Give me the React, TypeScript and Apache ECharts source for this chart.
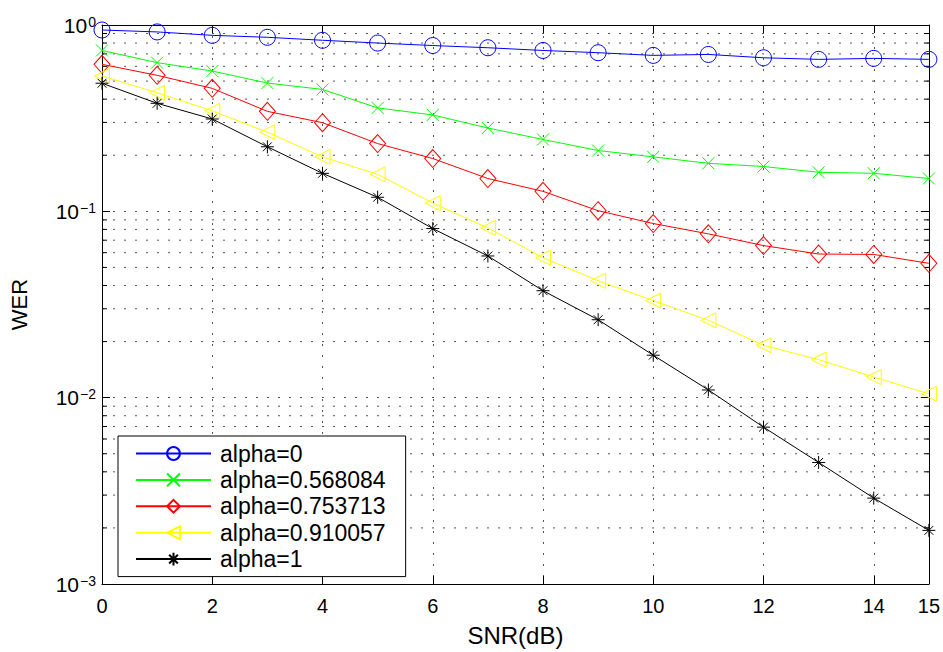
import React, { useEffect, useRef } from "react";
import * as echarts from "echarts";

const snr = [0, 1, 2, 3, 4, 5, 6, 7, 8, 9, 10, 11, 12, 13, 14, 15];
const seriesNames = ["alpha=0", "alpha=0.568084", "alpha=0.753713", "alpha=0.910057", "alpha=1"];
const werAlpha0 = [0.94, 0.918, 0.88, 0.859, 0.828, 0.8, 0.776, 0.755, 0.73, 0.71, 0.687, 0.695, 0.667, 0.654, 0.662, 0.654];
const werAlpha0568 = [0.73, 0.628, 0.566, 0.488, 0.451, 0.359, 0.329, 0.28, 0.243, 0.212, 0.196, 0.181, 0.174, 0.162, 0.16, 0.15];
const werAlpha0753 = [0.615, 0.537, 0.457, 0.344, 0.299, 0.231, 0.192, 0.15, 0.128, 0.1008, 0.086, 0.0757, 0.0655, 0.059, 0.0587, 0.0526];
const werAlpha0910 = [0.533, 0.433, 0.346, 0.266, 0.196, 0.158, 0.1107, 0.0815, 0.0564, 0.0424, 0.0332, 0.026, 0.0191, 0.016, 0.0129, 0.0105];
const werAlpha1 = [0.487, 0.38, 0.313, 0.222, 0.16, 0.119, 0.0808, 0.0576, 0.0375, 0.0262, 0.0169, 0.011, 0.00695, 0.00449, 0.00289, 0.00194];

const colors = ["#0000ff", "#00ff00", "#ff0000", "#ffff00", "#000000"];
const symbols = [
  "circle",
  "path://M0,0L10,10M10,0L0,10",
  "diamond",
  "path://M0,5L10,0L10,10Z",
  "path://M5,0L5,10M0,5L10,5M1.6,1.6L8.4,8.4M8.4,1.6L1.6,8.4",
];
const symbolSizes: any[] = [16, 12, [16, 18], 15, 13];

const FONT = "'Liberation Sans', Arial, Helvetica, sans-serif";

export default function App() {
  const ref = useRef<HTMLDivElement>(null);
  useEffect(() => {
    if (!ref.current) return;
    const chart = echarts.init(ref.current, undefined, { renderer: "svg" });
    const allData = [werAlpha0, werAlpha0568, werAlpha0753, werAlpha0910, werAlpha1];

    const minorVals: number[] = [];
    for (let e = -3; e < 0; e++) {
      for (let k = 2; k <= 9; k++) minorVals.push(k * Math.pow(10, e));
    }

    const lineSeries = allData.map((d, i) => ({
      name: seriesNames[i],
      type: "line",
      data: d.map((v, j) => [snr[j], v]),
      symbol: symbols[i],
      symbolSize: symbolSizes[i],
      showAllSymbol: true,
      lineStyle: { color: colors[i], width: 1 },
      itemStyle: { color: "none", borderColor: colors[i], borderWidth: 1 },
      emphasis: { disabled: true },
      z: 3,
    }));

    const gridSeries = {
      type: "custom",
      silent: true,
      z: 1,
      data: minorVals.map((v) => [0, v]),
      renderItem: (params: any, api: any) => {
        const v = api.value(1);
        const p0 = api.coord([0, v]);
        const p1 = api.coord([15, v]);
        return {
          type: "group",
          children: [
            {
              type: "line",
              shape: { x1: p0[0], y1: p0[1], x2: p1[0], y2: p1[1] },
              style: { stroke: "#555", lineWidth: 1, lineDash: [2, 9] },
            },
            {
              type: "line",
              shape: { x1: p0[0], y1: p0[1], x2: p0[0] + 5, y2: p0[1] },
              style: { stroke: "#000", lineWidth: 1 },
            },
            {
              type: "line",
              shape: { x1: p1[0], y1: p1[1], x2: p1[0] - 5, y2: p1[1] },
              style: { stroke: "#000", lineWidth: 1 },
            },
          ],
        };
      },
    };

    const yLabelFormatter = (v: number) => {
      const e = Math.round(Math.log10(v));
      const s = e < 0 ? "\u2212" + -e : String(e);
      return `{b|10}{s|${s}}`;
    };

    const option: any = {
      animation: false,
      backgroundColor: "#fff",
      textStyle: { fontFamily: FONT },
      grid: { left: 101, right: 11, top: 25, bottom: 63, containLabel: false },
      legend: {
        data: seriesNames,
        orient: "vertical",
        left: 118,
        top: 436,
        itemWidth: 75,
        itemHeight: 16,
        itemGap: 3.4,
        padding: [6, 20, 6, 17],
        backgroundColor: "#fff",
        borderColor: "#000",
        borderWidth: 1,
        borderRadius: 0,
        textStyle: { fontSize: 23, color: "#000", fontFamily: FONT, padding: [0, 0, 0, 4] },
        selectedMode: false,
        z: 10,
      },
      xAxis: [
        {
          type: "value",
          min: 0,
          max: 15,
          interval: 2,
          position: "bottom",
          name: "SNR(dB)",
          nameLocation: "middle",
          nameGap: 39,
          nameTextStyle: { fontSize: 24, color: "#000", fontFamily: FONT },
          axisLine: { show: true, onZero: false, lineStyle: { color: "#000", width: 1 } },
          axisTick: { show: true, inside: true, length: 8, lineStyle: { color: "#000" } },
          axisLabel: { fontSize: 20, color: "#000", margin: 12, fontFamily: FONT },
          splitLine: { show: true, lineStyle: { color: "#555", type: [2, 9], width: 1 } },
        },
        {
          type: "value",
          min: 0,
          max: 15,
          interval: 2,
          position: "top",
          axisLine: { show: true, onZero: false, lineStyle: { color: "#000", width: 1 } },
          axisTick: { show: true, inside: true, length: 8, lineStyle: { color: "#000" } },
          axisLabel: { show: false },
          splitLine: { show: false },
        },
      ],
      yAxis: [
        {
          type: "log",
          logBase: 10,
          min: 0.001,
          max: 1,
          position: "left",
          name: "WER",
          nameLocation: "middle",
          nameGap: 72,
          nameTextStyle: { fontSize: 22, color: "#000", fontFamily: FONT },
          axisLine: { show: true, onZero: false, lineStyle: { color: "#000", width: 1 } },
          axisTick: { show: true, inside: true, length: 8, lineStyle: { color: "#000" } },
          axisLabel: {
            margin: 6,
            color: "#000",
            formatter: yLabelFormatter,
            rich: {
              b: { fontSize: 21, lineHeight: 21, color: "#000", fontFamily: FONT, verticalAlign: "middle" },
              s: { fontSize: 14, lineHeight: 14, color: "#000", fontFamily: FONT, verticalAlign: "top", padding: [0, 0, 20, 1] },
            },
          },
          splitLine: { show: true, lineStyle: { color: "#555", type: [2, 9], width: 1 } },
        },
        {
          type: "log",
          logBase: 10,
          min: 0.001,
          max: 1,
          position: "right",
          axisLine: { show: true, onZero: false, lineStyle: { color: "#000", width: 1 } },
          axisTick: { show: true, inside: true, length: 8, lineStyle: { color: "#000" } },
          axisLabel: { show: false },
          splitLine: { show: false },
        },
      ],
      series: [gridSeries, ...lineSeries],
    };
    chart.setOption(option);
    return () => chart.dispose();
  }, []);

  return (
    <div
      ref={ref}
      style={{ position: "fixed", left: 0, top: 0, width: 943, height: 652, background: "#fff" }}
    />
  );
}
